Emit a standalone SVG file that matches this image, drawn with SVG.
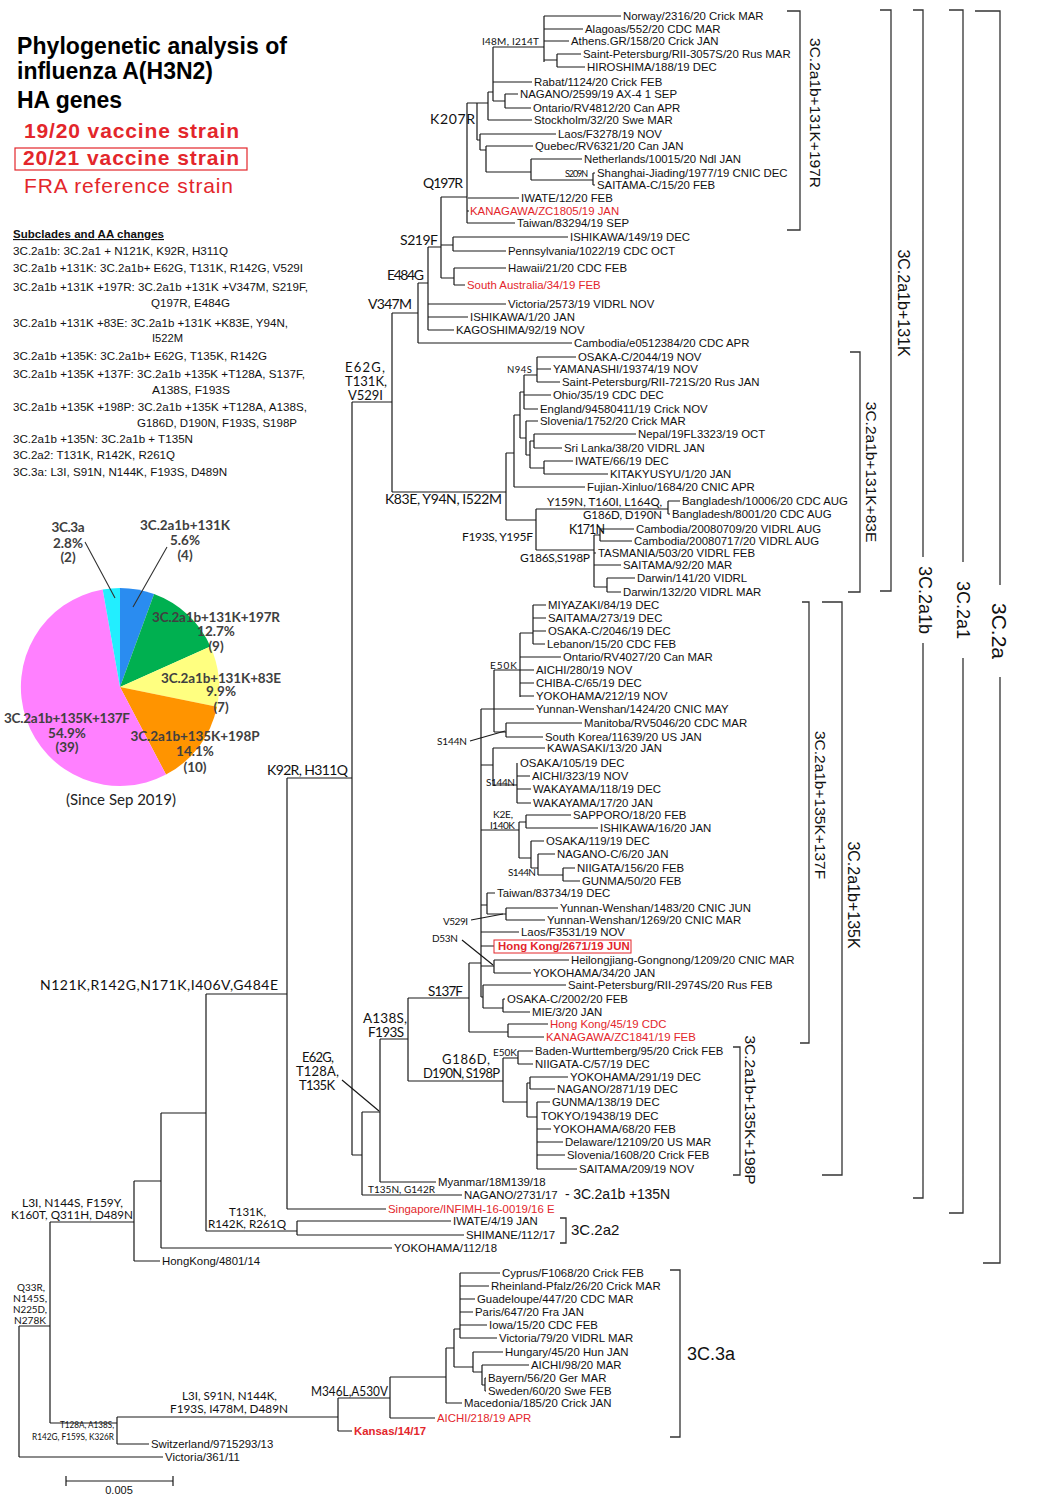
<svg xmlns="http://www.w3.org/2000/svg" width="1040" height="1502" viewBox="0 0 1040 1502">
<style>
.l{font-family:"Liberation Sans",Arial,sans-serif;font-size:11.4px;fill:#111}
.r{fill:#e3262b}
.b{font-weight:bold}
.m{font-family:Lato,"Liberation Sans",sans-serif;fill:#111}
.t{font-family:"Liberation Sans",Arial,sans-serif;font-weight:bold;font-size:23px;fill:#000}
.v{font-family:"Liberation Sans",Arial,sans-serif;font-size:21px;fill:#e3262b}
.g{font-family:"Liberation Sans",Arial,sans-serif;font-size:11.5px;fill:#111}
.p{font-family:Lato,"Liberation Sans",sans-serif;font-weight:bold;font-size:13.5px;fill:#404040;text-anchor:middle}
.tree{fill:none;stroke:#1a1a1a;stroke-width:1.2}
.br{fill:none;stroke:#333;stroke-width:1.3}
.bl{font-family:"Liberation Sans",Arial,sans-serif;fill:#111;text-anchor:middle;dominant-baseline:central}
</style>
<rect width="1040" height="1502" fill="#fff"/>

<g id="title">
<text class="t" x="17" y="54" textLength="270">Phylogenetic analysis of</text>
<text class="t" x="17" y="79" textLength="196">influenza A(H3N2)</text>
<text class="t" x="17" y="108" textLength="105">HA genes</text>
<text class="v b" x="24" y="138" textLength="215">19/20 vaccine strain</text>
<rect x="15" y="148" width="232" height="22" fill="none" stroke="#e3262b" stroke-width="1.2"/>
<text class="v b" x="23" y="165" textLength="216">20/21 vaccine strain</text>
<text class="v" x="24" y="193" textLength="209">FRA reference strain</text>
</g>

<g id="legend">
<text class="g b" x="13" y="238" font-size="10px" text-decoration="underline" textLength="151">Subclades and AA changes</text>
<text class="g" x="13" y="255" textLength="215" lengthAdjust="spacingAndGlyphs">3C.2a1b: 3C.2a1 + N121K, K92R, H311Q</text>
<text class="g" x="13" y="272" textLength="290" lengthAdjust="spacingAndGlyphs">3C.2a1b +131K: 3C.2a1b+ E62G, T131K, R142G, V529I</text>
<text class="g" x="13" y="291" textLength="295" lengthAdjust="spacingAndGlyphs">3C.2a1b +131K +197R: 3C.2a1b +131K +V347M, S219F,</text>
<text class="g" x="151" y="307" textLength="79" lengthAdjust="spacingAndGlyphs">Q197R, E484G</text>
<text class="g" x="13" y="327" textLength="275" lengthAdjust="spacingAndGlyphs">3C.2a1b +131K +83E: 3C.2a1b +131K +K83E, Y94N,</text>
<text class="g" x="152" y="342" textLength="31" lengthAdjust="spacingAndGlyphs">I522M</text>
<text class="g" x="13" y="360" textLength="254" lengthAdjust="spacingAndGlyphs">3C.2a1b +135K: 3C.2a1b+ E62G, T135K, R142G</text>
<text class="g" x="13" y="378" textLength="292" lengthAdjust="spacingAndGlyphs">3C.2a1b +135K +137F: 3C.2a1b +135K +T128A, S137F,</text>
<text class="g" x="152" y="394" textLength="78" lengthAdjust="spacingAndGlyphs">A138S, F193S</text>
<text class="g" x="13" y="411" textLength="294" lengthAdjust="spacingAndGlyphs">3C.2a1b +135K +198P: 3C.2a1b +135K +T128A, A138S,</text>
<text class="g" x="137" y="427" textLength="160" lengthAdjust="spacingAndGlyphs">G186D, D190N, F193S, S198P</text>
<text class="g" x="13" y="443" textLength="180" lengthAdjust="spacingAndGlyphs">3C.2a1b +135N: 3C.2a1b + T135N</text>
<text class="g" x="13" y="459" textLength="162" lengthAdjust="spacingAndGlyphs">3C.2a2: T131K, R142K, R261Q</text>
<text class="g" x="13" y="476" textLength="214" lengthAdjust="spacingAndGlyphs">3C.3a: L3I, S91N, N144K, F193S, D489N</text>
</g>

<g id="pie">
<path d="M120 687L120 588A99 99 0 0 1 154.1 594.1Z" fill="#2a8cf0"/>
<path d="M120 687L154.1 594.1A99 99 0 0 1 210.4 646.5Z" fill="#00b050"/>
<path d="M120 687L210.4 646.5A99 99 0 0 1 217 706.8Z" fill="#ffff80"/>
<path d="M120 687L217 706.8A99 99 0 0 1 166 774.6Z" fill="#ff9400"/>
<path d="M120 687L166 774.6A99 99 0 1 1 102.7 589.5Z" fill="#ff80ff"/>
<path d="M120 687L102.7 589.5A99 99 0 0 1 120 588Z" fill="#22eeff"/>
<path d="M85 542L115 598M167 547L133 607" stroke="#333" stroke-width="1.1"/>
<text class="p" x="68" y="532" textLength="33">3C.3a</text>
<text class="p" x="68" y="548">2.8%</text>
<text class="p" x="68" y="562">(2)</text>
<text class="p" x="185" y="530" textLength="90">3C.2a1b+131K</text>
<text class="p" x="185" y="545">5.6%</text>
<text class="p" x="185" y="560">(4)</text>
<text class="p" x="216" y="622" textLength="128">3C.2a1b+131K+197R</text>
<text class="p" x="216" y="636">12.7%</text>
<text class="p" x="216" y="651">(9)</text>
<text class="p" x="221" y="683" textLength="120">3C.2a1b+131K+83E</text>
<text class="p" x="221" y="696">9.9%</text>
<text class="p" x="221" y="712">(7)</text>
<text class="p" x="195" y="741" textLength="129">3C.2a1b+135K+198P</text>
<text class="p" x="195" y="756">14.1%</text>
<text class="p" x="195" y="772">(10)</text>
<text class="p" x="67" y="723" textLength="126">3C.2a1b+135K+137F</text>
<text class="p" x="67" y="738">54.9%</text>
<text class="p" x="67" y="752">(39)</text>
<text x="121" y="805" font-family="Lato,'Liberation Sans',sans-serif" font-size="15px" fill="#222" text-anchor="middle">(Since Sep 2019)</text>
</g>

<g id="connectors">
<path class="tree" d="M544 16V62M557 54V67M544 60H557M493 47H544M493 47V101M493 101H505M505 94V108M488 92V120M488 92H493M477 103V140M477 103H488M480 134V150M477 140H480M486 146V172M480 150H486M486 172H531M531 159V180M531 180H593M593 173V185M467 103V223M467 103H477M441 197V278M441 197H467
M544 16H621M544 29H583M544 41H569M557 54H581M557 67H585M493 82H532M505 94H518M505 108H531M488 120H532M480 134H556M486 146H533M531 159H582M593 173H595M593 185H595M468 198H519M467 211H469M467 223H515
M441 245H453M453 237V251M453 237H568M453 251H506M441 278H454M454 268V285M454 268H506M454 285H465
M428 247H441M428 247V330M428 304H506M428 317H468M428 330H454M418 283H428M418 283V343M418 343H572M392 313H418M392 313V492M352 402H392M392 492H506M506 453V520
M537 357V382M537 357H576M537 369H551M537 382H560M524 375H537M524 375V409M524 395H551M524 409H538M520 392H524M520 392V438M526 421V455M526 421H538M520 438H526M530 441V468M526 455H530M534 434V448M530 441H534M534 434H636M534 448H562M544 461V474M530 468H544M544 461H573M544 474H608M514 415V487M514 415H520M514 487H585M506 453H514
M506 520H536M536 509V550M536 509H668M668 501V514M668 501H680M668 514H670M536 550H594M594 535V587M594 535H600M600 529V541M600 529H634M600 541H632M594 553H596M594 565H621M594 587H607M607 578V592M607 578H635M607 592H621
M352 402V1155M287 778H352M287 778V1209M206 994H287M287 1209H386M206 994V1231M206 1231H297M297 1221V1235M297 1221H451M297 1235H464M161 1113H206M161 1113V1248M161 1248H392M134 1181H161M134 1181V1261M134 1261H160M50 1222H134M50 1222V1423M19 1326H50M19 1326V1457M19 1457H163M50 1423H117M117 1417V1444M117 1444H149M117 1417H338M338 1398V1431M338 1431H352M338 1398H390M390 1377V1418M390 1418H435M390 1377H446M446 1348V1403M446 1403H462M446 1348H454M454 1329V1367M454 1329H460M460 1273V1338M460 1273H500M460 1286H489M460 1299H475M460 1312H473M460 1325H487M460 1338H497M454 1367H473M473 1352V1372M473 1352H503M473 1372H482M482 1365V1385M482 1365H529M482 1385H485M485 1378V1391M485 1378H486M485 1391H486
M352 1155H362M362 1112V1195M362 1195H462M362 1112H380M380 1039V1182M380 1182H436M380 1039H408M408 998V1081M408 998H469M469 963V1032M469 963H481M469 1032H508M508 1024V1037M508 1024H548M508 1037H544M408 1081H503M503 1058V1102M503 1058H518M518 1051V1064M518 1051H533M518 1064H533M503 1102H527M527 1083V1117M527 1083H530M530 1077V1089M530 1077H568M530 1089H555M527 1117H537M537 1102V1169M537 1102H550M537 1129H551M537 1142H563M537 1155H565M537 1169H577
M481 709V997M481 709H534M494 670V732M494 670H534M520 633V697M520 633H533M533 605V644M533 605H546M533 618H546M533 631H546M533 644H545M520 657H561M520 683H534M520 696H534M494 732H506M506 723V737M506 723H582M506 737H543M481 765H493M493 748V785M493 748H545M493 785H517M517 763V803M517 776H530M517 789H531M517 803H531M481 830H519M519 822V858M519 822H526M526 815V828M526 815H571M526 828H598M519 858H531M531 841V868M531 841H544M531 868H538M538 854V875M538 854H555M538 875H563M563 868V881M563 868H575M563 881H580M481 905H487M487 893V914M487 893H495M487 914H506M506 908V920M506 908H558M506 920H545M481 932H519M481 946H494M481 966H494M494 960V973M494 960H569M494 973H531M481 997H483M483 985V1008M483 985H566M483 1008H503M503 999V1012M503 999H505M503 1012H530"/>
<path class="tree" stroke-width="1" d="M470 741L505 731M471 920L503 914M462 940L493 965M342 1080L379 1111"/>
<path class="tree" d="M66 1481H173M66 1476V1486M173 1476V1486"/>
<text x="119" y="1494" font-family="'Liberation Sans',Arial,sans-serif" font-size="11px" fill="#111" text-anchor="middle">0.005</text>
</g>

<g id="branch-labels">
<text class="m" x="482" y="45" font-size="10px" textLength="57">I48M, I214T</text>
<text class="m" x="430" y="124" font-size="14px" textLength="45">K207R</text>
<text class="m" x="565" y="177" font-size="9px" textLength="23">S209N</text>
<text class="m" x="423" y="188" font-size="14px" textLength="40">Q197R</text>
<text class="m" x="400" y="245" font-size="14px" textLength="38">S219F</text>
<text class="m" x="387" y="280" font-size="14px" textLength="37">E484G</text>
<text class="m" x="368" y="309" font-size="14px" textLength="44">V347M</text>
<text class="m" x="345" y="372" font-size="13px" textLength="40">E62G,</text>
<text class="m" x="345" y="386" font-size="13px" textLength="42">T131K,</text>
<text class="m" x="348" y="400" font-size="13px" textLength="35">V529I</text>
<text class="m" x="385" y="504" font-size="14px" textLength="117">K83E, Y94N, I522M</text>
<text class="m" x="507" y="373" font-size="9.5px" textLength="25">N94S</text>
<text class="m" x="462" y="541" font-size="12px" textLength="71">F193S, Y195F</text>
<text class="m" x="547" y="506" font-size="11.5px" textLength="115">Y159N, T160I, L164Q,</text>
<text class="m" x="583" y="519" font-size="11.5px" textLength="79">G186D, D190N</text>
<text class="m" x="569" y="534" font-size="12.5px" textLength="36">K171N</text>
<text class="m" x="520" y="562" font-size="12px" textLength="70">G186S,S198P</text>
<text class="m" x="267" y="775" font-size="14px" textLength="81">K92R, H311Q</text>
<text class="m" x="40" y="990" font-size="14px" textLength="238">N121K,R142G,N171K,I406V,G484E</text>
<text class="m" x="490" y="669" font-size="10px" textLength="27">E50K</text>
<text class="m" x="437" y="745" font-size="10px" textLength="30">S144N</text>
<text class="m" x="486" y="786" font-size="10px" textLength="29">S144N</text>
<text class="m" x="493" y="818" font-size="10px" textLength="20">K2E,</text>
<text class="m" x="490" y="829" font-size="10px" textLength="25">I140K</text>
<text class="m" x="508" y="876" font-size="10px" textLength="28">S144N</text>
<text class="m" x="443" y="925" font-size="10px" textLength="25">V529I</text>
<text class="m" x="432" y="942" font-size="10px" textLength="26">D53N</text>
<text class="m" x="428" y="996" font-size="13.5px" textLength="35">S137F</text>
<text class="m" x="363" y="1023" font-size="13.5px" textLength="44">A138S,</text>
<text class="m" x="368" y="1037" font-size="13.5px" textLength="36">F193S</text>
<text class="m" x="442" y="1064" font-size="13px" textLength="48">G186D,</text>
<text class="m" x="423" y="1078" font-size="13px" textLength="77">D190N, S198P</text>
<text class="m" x="493" y="1056" font-size="10px" textLength="24">E50K</text>
<text class="m" x="302" y="1062" font-size="13px" textLength="32">E62G,</text>
<text class="m" x="296" y="1076" font-size="13px" textLength="43">T128A,</text>
<text class="m" x="299" y="1090" font-size="13px" textLength="36">T135K</text>
<text class="m" x="368" y="1193" font-size="10px" textLength="67">T135N, G142R</text>
<text class="m" x="22" y="1207" font-size="11.5px" textLength="101" lengthAdjust="spacingAndGlyphs">L3I, N144S, F159Y,</text>
<text class="m" x="11" y="1219" font-size="11.5px" textLength="122" lengthAdjust="spacingAndGlyphs">K160T, Q311H, D489N</text>
<text class="m" x="229" y="1216" font-size="11.5px" textLength="37" lengthAdjust="spacingAndGlyphs">T131K,</text>
<text class="m" x="208" y="1228" font-size="11.5px" textLength="78" lengthAdjust="spacingAndGlyphs">R142K, R261Q</text>
<text class="m" x="17" y="1291" font-size="10px" textLength="28" lengthAdjust="spacingAndGlyphs">Q33R,</text>
<text class="m" x="13" y="1302" font-size="10px" textLength="34" lengthAdjust="spacingAndGlyphs">N145S,</text>
<text class="m" x="13" y="1313" font-size="10px" textLength="34" lengthAdjust="spacingAndGlyphs">N225D,</text>
<text class="m" x="14" y="1324" font-size="10px" textLength="32" lengthAdjust="spacingAndGlyphs">N278K</text>
<text class="m" x="60" y="1428" font-size="8.5px" textLength="54" lengthAdjust="spacingAndGlyphs">T128A, A138S,</text>
<text class="m" x="32" y="1440" font-size="8.5px" textLength="82" lengthAdjust="spacingAndGlyphs">R142G, F159S, K326R</text>
<text class="m" x="182" y="1400" font-size="12px" textLength="95" lengthAdjust="spacingAndGlyphs">L3I, S91N, N144K,</text>
<text class="m" x="170" y="1413" font-size="12px" textLength="118" lengthAdjust="spacingAndGlyphs">F193S, I478M, D489N</text>
<text class="m" x="311" y="1396" font-size="12.5px" textLength="77" lengthAdjust="spacingAndGlyphs">M346L,A530V</text>
</g>

<g id="leaves">
<g id="L1"><text class="l" x="623" y="20">Norway/2316/20 Crick MAR</text></g>
<g id="L2"><text class="l" x="585" y="33">Alagoas/552/20 CDC MAR</text></g>
<g id="L3"><text class="l" x="571" y="45">Athens.GR/158/20 Crick JAN</text></g>
<g id="L4"><text class="l" x="583" y="58">Saint-Petersburg/RII-3057S/20 Rus MAR</text></g>
<g id="L5"><text class="l" x="587" y="71">HIROSHIMA/188/19 DEC</text></g>
<g id="L6"><text class="l" x="534" y="86">Rabat/1124/20 Crick FEB</text></g>
<g id="L7"><text class="l" x="520" y="98">NAGANO/2599/19 AX-4 1 SEP</text></g>
<g id="L8"><text class="l" x="533" y="112">Ontario/RV4812/20 Can APR</text></g>
<g id="L9"><text class="l" x="534" y="124">Stockholm/32/20 Swe MAR</text></g>
<g id="L10"><text class="l" x="558" y="138">Laos/F3278/19 NOV</text></g>
<g id="L11"><text class="l" x="535" y="150">Quebec/RV6321/20 Can JAN</text></g>
<g id="L12"><text class="l" x="584" y="163">Netherlands/10015/20 Ndl JAN</text></g>
<g id="L13"><text class="l" x="597" y="177">Shanghai-Jiading/1977/19 CNIC DEC</text></g>
<g id="L14"><text class="l" x="597" y="189">SAITAMA-C/15/20 FEB</text></g>
<g id="L15"><text class="l" x="521" y="202">IWATE/12/20 FEB</text></g>
<g id="L16"><text class="l r" x="470" y="215">KANAGAWA/ZC1805/19 JAN</text></g>
<g id="L17"><text class="l" x="517" y="227">Taiwan/83294/19 SEP</text></g>
<g id="L18"><text class="l" x="570" y="241">ISHIKAWA/149/19 DEC</text></g>
<g id="L19"><text class="l" x="508" y="255">Pennsylvania/1022/19 CDC OCT</text></g>
<g id="L20"><text class="l" x="508" y="272">Hawaii/21/20 CDC FEB</text></g>
<g id="L21"><text class="l r" x="467" y="289">South Australia/34/19 FEB</text></g>
<g id="L22"><text class="l" x="508" y="308">Victoria/2573/19 VIDRL NOV</text></g>
<g id="L23"><text class="l" x="470" y="321">ISHIKAWA/1/20 JAN</text></g>
<g id="L24"><text class="l" x="456" y="334">KAGOSHIMA/92/19 NOV</text></g>
<g id="L25"><text class="l" x="574" y="347">Cambodia/e0512384/20 CDC APR</text></g>
<g id="L26"><text class="l" x="578" y="361">OSAKA-C/2044/19 NOV</text></g>
<g id="L27"><text class="l" x="553" y="373">YAMANASHI/19374/19 NOV</text></g>
<g id="L28"><text class="l" x="562" y="386">Saint-Petersburg/RII-721S/20 Rus JAN</text></g>
<g id="L29"><text class="l" x="553" y="399">Ohio/35/19 CDC DEC</text></g>
<g id="L30"><text class="l" x="540" y="413">England/94580411/19 Crick NOV</text></g>
<g id="L31"><text class="l" x="540" y="425">Slovenia/1752/20 Crick MAR</text></g>
<g id="L32"><text class="l" x="638" y="438">Nepal/19FL3323/19 OCT</text></g>
<g id="L33"><text class="l" x="564" y="452">Sri Lanka/38/20 VIDRL JAN</text></g>
<g id="L34"><text class="l" x="575" y="465">IWATE/66/19 DEC</text></g>
<g id="L35"><text class="l" x="610" y="478">KITAKYUSYU/1/20 JAN</text></g>
<g id="L36"><text class="l" x="587" y="491">Fujian-Xinluo/1684/20 CNIC APR</text></g>
<g id="L37"><text class="l" x="682" y="505">Bangladesh/10006/20 CDC AUG</text></g>
<g id="L38"><text class="l" x="672" y="518">Bangladesh/8001/20 CDC AUG</text></g>
<g id="L39"><text class="l" x="636" y="533">Cambodia/20080709/20 VIDRL AUG</text></g>
<g id="L40"><text class="l" x="634" y="545">Cambodia/20080717/20 VIDRL AUG</text></g>
<g id="L41"><text class="l" x="598" y="557">TASMANIA/503/20 VIDRL FEB</text></g>
<g id="L42"><text class="l" x="623" y="569">SAITAMA/92/20 MAR</text></g>
<g id="L43"><text class="l" x="637" y="582">Darwin/141/20 VIDRL</text></g>
<g id="L44"><text class="l" x="623" y="596">Darwin/132/20 VIDRL MAR</text></g>
<g id="L45"><text class="l" x="548" y="609">MIYAZAKI/84/19 DEC</text></g>
<g id="L46"><text class="l" x="548" y="622">SAITAMA/273/19 DEC</text></g>
<g id="L47"><text class="l" x="548" y="635">OSAKA-C/2046/19 DEC</text></g>
<g id="L48"><text class="l" x="547" y="648">Lebanon/15/20 CDC FEB</text></g>
<g id="L49"><text class="l" x="563" y="661">Ontario/RV4027/20 Can MAR</text></g>
<g id="L50"><text class="l" x="536" y="674">AICHI/280/19 NOV</text></g>
<g id="L51"><text class="l" x="536" y="687">CHIBA-C/65/19 DEC</text></g>
<g id="L52"><text class="l" x="536" y="700">YOKOHAMA/212/19 NOV</text></g>
<g id="L53"><text class="l" x="536" y="713">Yunnan-Wenshan/1424/20 CNIC MAY</text></g>
<g id="L54"><text class="l" x="584" y="727">Manitoba/RV5046/20 CDC MAR</text></g>
<g id="L55"><text class="l" x="545" y="741">South Korea/11639/20 US JAN</text></g>
<g id="L56"><text class="l" x="547" y="752">KAWASAKI/13/20 JAN</text></g>
<g id="L57"><text class="l" x="520" y="767">OSAKA/105/19 DEC</text></g>
<g id="L58"><text class="l" x="532" y="780">AICHI/323/19 NOV</text></g>
<g id="L59"><text class="l" x="533" y="793">WAKAYAMA/118/19 DEC</text></g>
<g id="L60"><text class="l" x="533" y="807">WAKAYAMA/17/20 JAN</text></g>
<g id="L61"><text class="l" x="573" y="819">SAPPORO/18/20 FEB</text></g>
<g id="L62"><text class="l" x="600" y="832">ISHIKAWA/16/20 JAN</text></g>
<g id="L63"><text class="l" x="546" y="845">OSAKA/119/19 DEC</text></g>
<g id="L64"><text class="l" x="557" y="858">NAGANO-C/6/20 JAN</text></g>
<g id="L65"><text class="l" x="577" y="872">NIIGATA/156/20 FEB</text></g>
<g id="L66"><text class="l" x="582" y="885">GUNMA/50/20 FEB</text></g>
<g id="L67"><text class="l" x="497" y="897">Taiwan/83734/19 DEC</text></g>
<g id="L68"><text class="l" x="560" y="912">Yunnan-Wenshan/1483/20 CNIC JUN</text></g>
<g id="L69"><text class="l" x="547" y="924">Yunnan-Wenshan/1269/20 CNIC MAR</text></g>
<g id="L70"><text class="l" x="521" y="936">Laos/F3531/19 NOV</text></g>
<g id="L71"><rect x="494" y="940" width="137" height="13" fill="none" stroke="#e3262b" stroke-width="1"/><text class="l r b" x="498" y="950">Hong Kong/2671/19 JUN</text></g>
<g id="L72"><text class="l" x="571" y="964">Heilongjiang-Gongnong/1209/20 CNIC MAR</text></g>
<g id="L73"><text class="l" x="533" y="977">YOKOHAMA/34/20 JAN</text></g>
<g id="L74"><text class="l" x="568" y="989">Saint-Petersburg/RII-2974S/20 Rus FEB</text></g>
<g id="L75"><text class="l" x="507" y="1003">OSAKA-C/2002/20 FEB</text></g>
<g id="L76"><text class="l" x="532" y="1016">MIE/3/20 JAN</text></g>
<g id="L77"><text class="l r" x="550" y="1028">Hong Kong/45/19 CDC</text></g>
<g id="L78"><text class="l r" x="546" y="1041">KANAGAWA/ZC1841/19 FEB</text></g>
<g id="L79"><text class="l" x="535" y="1055">Baden-Wurttemberg/95/20 Crick FEB</text></g>
<g id="L80"><text class="l" x="535" y="1068">NIIGATA-C/57/19 DEC</text></g>
<g id="L81"><text class="l" x="570" y="1081">YOKOHAMA/291/19 DEC</text></g>
<g id="L82"><text class="l" x="557" y="1093">NAGANO/2871/19 DEC</text></g>
<g id="L83"><text class="l" x="552" y="1106">GUNMA/138/19 DEC</text></g>
<g id="L84"><text class="l" x="541" y="1120">TOKYO/19438/19 DEC</text></g>
<g id="L85"><text class="l" x="553" y="1133">YOKOHAMA/68/20 FEB</text></g>
<g id="L86"><text class="l" x="565" y="1146">Delaware/12109/20 US MAR</text></g>
<g id="L87"><text class="l" x="567" y="1159">Slovenia/1608/20 Crick FEB</text></g>
<g id="L88"><text class="l" x="579" y="1173">SAITAMA/209/19 NOV</text></g>
<g id="L89"><text class="l" x="438" y="1186">Myanmar/18M139/18</text></g>
<g id="L90"><text class="l" x="464" y="1199">NAGANO/2731/17</text></g>
<g id="L91"><text class="l r" x="388" y="1213">Singapore/INFIMH-16-0019/16 E</text></g>
<g id="L92"><text class="l" x="453" y="1225">IWATE/4/19 JAN</text></g>
<g id="L93"><text class="l" x="466" y="1239">SHIMANE/112/17</text></g>
<g id="L94"><text class="l" x="394" y="1252">YOKOHAMA/112/18</text></g>
<g id="L95"><text class="l" x="162" y="1265">HongKong/4801/14</text></g>
<g id="L96"><text class="l" x="502" y="1277">Cyprus/F1068/20 Crick FEB</text></g>
<g id="L97"><text class="l" x="491" y="1290">Rheinland-Pfalz/26/20 Crick MAR</text></g>
<g id="L98"><text class="l" x="477" y="1303">Guadeloupe/447/20 CDC MAR</text></g>
<g id="L99"><text class="l" x="475" y="1316">Paris/647/20 Fra JAN</text></g>
<g id="L100"><text class="l" x="489" y="1329">Iowa/15/20 CDC FEB</text></g>
<g id="L101"><text class="l" x="499" y="1342">Victoria/79/20 VIDRL MAR</text></g>
<g id="L102"><text class="l" x="505" y="1356">Hungary/45/20 Hun JAN</text></g>
<g id="L103"><text class="l" x="531" y="1369">AICHI/98/20 MAR</text></g>
<g id="L104"><text class="l" x="488" y="1382">Bayern/56/20 Ger MAR</text></g>
<g id="L105"><text class="l" x="488" y="1395">Sweden/60/20 Swe FEB</text></g>
<g id="L106"><text class="l" x="464" y="1407">Macedonia/185/20 Crick JAN</text></g>
<g id="L107"><text class="l r" x="437" y="1422">AICHI/218/19 APR</text></g>
<g id="L108"><text class="l r b" x="354" y="1435">Kansas/14/17</text></g>
<g id="L109"><text class="l" x="151" y="1448">Switzerland/9715293/13</text></g>
<g id="L110"><text class="l" x="165" y="1461">Victoria/361/11</text></g>
</g>

<g id="clade-brackets">
<path class="br" d="M787 11H800V230H787M880 10H891V591H880M850 352H860V592H848M913 10H923V557M923 643V1198H913M949 10H963V562M963 658V1213H949M975 11H1000V585M1000 677V1263H983M802 602H809V1043H800M822 602H842V1175H822M733 1047H740V1175H733M670 1270H680V1437H670M560 1218H566V1243H560"/>
<text class="bl" font-size="15.5px" transform="translate(815 113) rotate(90)">3C.2a1b+131K+197R</text>
<text class="bl" font-size="16px" transform="translate(903 303) rotate(90)">3C.2a1b+131K</text>
<text class="bl" font-size="15.5px" transform="translate(871 472) rotate(90)">3C.2a1b+131K+83E</text>
<text class="bl" font-size="18px" transform="translate(925 600) rotate(90)">3C.2a1b</text>
<text class="bl" font-size="18px" transform="translate(963 610) rotate(90)">3C.2a1</text>
<text class="bl" font-size="21px" transform="translate(999 631) rotate(90)">3C.2a</text>
<text class="bl" font-size="15.5px" transform="translate(820 805) rotate(90)">3C.2a1b+135K+137F</text>
<text class="bl" font-size="16px" transform="translate(853 895) rotate(90)">3C.2a1b+135K</text>
<text class="bl" font-size="15.5px" transform="translate(750 1110) rotate(90)">3C.2a1b+135K+198P</text>
<text x="687" y="1360" font-family="'Liberation Sans',Arial,sans-serif" font-size="18px" fill="#111">3C.3a</text>
<text x="571" y="1235" font-family="'Liberation Sans',Arial,sans-serif" font-size="15px" fill="#111">3C.2a2</text>
<text x="565" y="1199" font-family="'Liberation Sans',Arial,sans-serif" font-size="14px" fill="#111" textLength="105">- 3C.2a1b +135N</text>
</g>
</svg>
